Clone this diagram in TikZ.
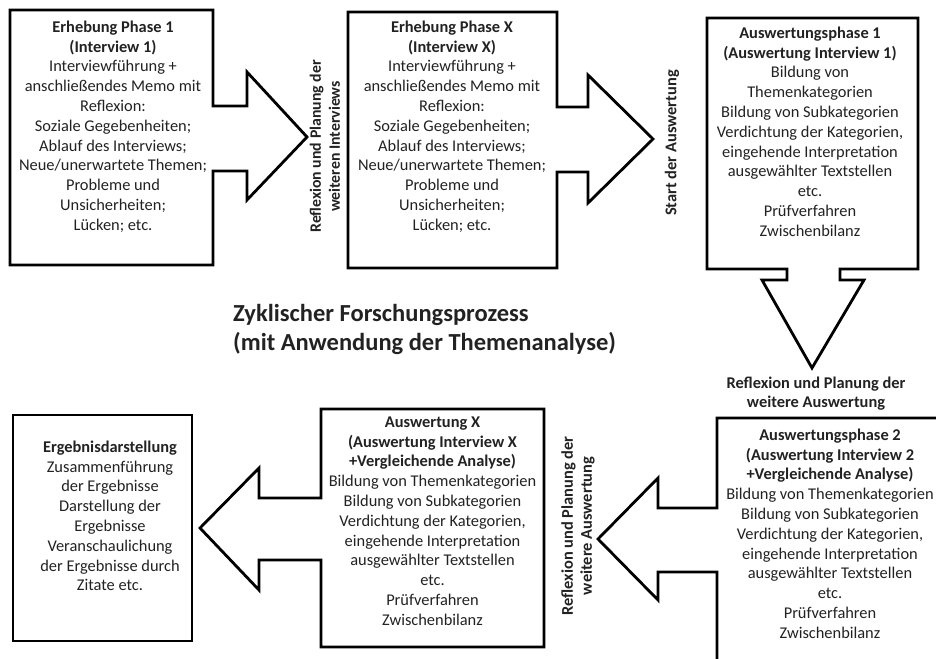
\documentclass[tikz,border=0pt]{standalone}
\usepackage{fontspec}
\setmainfont{Carlito}
\definecolor{txt}{HTML}{222222}
\begin{document}
\begin{tikzpicture}[x=1pt,y=-1pt,
  shapeline/.style={draw=black,line width=2.8pt,fill=white,line join=miter},
  bodytext/.style={align=center,inner sep=0pt,anchor=north,text=txt,font=\fontsize{16.4}{19.8}\selectfont},
  labeltext/.style={align=center,inner sep=0pt,text=txt,font=\fontsize{16.4}{19}\selectfont\bfseries},
  titletext/.style={align=left,inner sep=0pt,anchor=north west,text=txt,font=\fontsize{24.5}{29}\selectfont\bfseries}]
\useasboundingbox (0,0) rectangle (936,658);
\fill[white] (0,0) rectangle (936,658);
% Box 1 with arrow
\draw[shapeline] (10,10) -- (213,10) -- (213,106) -- (247,106) -- (247,72) -- (307,137) -- (247,200) -- (247,171) -- (213,171) -- (213,265) -- (10,265) -- cycle;
% Box 2 with arrow
\draw[shapeline] (348,12) -- (557,12) -- (557,107) -- (588,107) -- (588,75) -- (653,139) -- (588,203) -- (588,172) -- (557,172) -- (557,268) -- (348,268) -- cycle;
% Box 3 with down arrow
\draw[shapeline] (707,18) -- (918,18) -- (918,269) -- (840,269) -- (840,280) -- (864,280) -- (812,368) -- (762,280) -- (787,280) -- (787,269) -- (707,269) -- cycle;
% Box Auswertungsphase 2 with left arrow (cut by the page edge)
\fill[white] (717,418) rectangle (940,662);
\draw[shapeline] (942,418) -- (717,418) -- (717,508) -- (658,508) -- (658,478) -- (598,539) -- (658,600) -- (658,572) -- (717,572) -- (717,664);
% Box Auswertung X with left arrow
\draw[shapeline] (321,409) -- (544,409) -- (544,647) -- (321,647) -- (321,560) -- (259,560) -- (259,590) -- (200,528) -- (259,468) -- (259,498) -- (321,498) -- cycle;
% Box Ergebnisdarstellung
\draw[shapeline] (13,415) rectangle (192,641);

% Texts
\node[bodytext] (t1) at (113,20.5) {\textbf{Erhebung Phase 1}\\\textbf{(Interview 1)}\\Interviewführung +\\anschließendes Memo mit\\Reflexion:\\Soziale Gegebenheiten;\\Ablauf des Interviews;\\Neue/unerwartete Themen;\\Probleme und\\Unsicherheiten;\\Lücken; etc.};
\node[bodytext] (t2) at (452,20.5) {\textbf{Erhebung Phase X}\\\textbf{(Interview X)}\\Interviewführung +\\anschließendes Memo mit\\Reflexion:\\Soziale Gegebenheiten;\\Ablauf des Interviews;\\Neue/unerwartete Themen;\\Probleme und\\Unsicherheiten;\\Lücken; etc.};
\node[bodytext] (t3) at (810,26.5) {\textbf{Auswertungsphase 1}\\\textbf{(Auswertung Interview 1)}\\Bildung von\\Themenkategorien\\Bildung von Subkategorien\\Verdichtung der Kategorien,\\eingehende Interpretation\\ausgewählter Textstellen\\etc.\\Prüfverfahren\\Zwischenbilanz};
\node[bodytext] (t4) at (830,428.5) {\textbf{Auswertungsphase 2}\\\textbf{(Auswertung Interview 2}\\\textbf{+Vergleichende Analyse)}\\Bildung von Themenkategorien\\Bildung von Subkategorien\\Verdichtung der Kategorien,\\eingehende Interpretation\\ausgewählter Textstellen\\etc.\\Prüfverfahren\\Zwischenbilanz};
\node[bodytext] (t5) at (432.5,416.5) {\textbf{Auswertung X}\\\textbf{(Auswertung Interview X}\\\textbf{+Vergleichende Analyse)}\\Bildung von Themenkategorien\\Bildung von Subkategorien\\Verdichtung der Kategorien,\\eingehende Interpretation\\ausgewählter Textstellen\\etc.\\Prüfverfahren\\Zwischenbilanz};
\node[bodytext] (t6) at (110,440.5) {\textbf{Ergebnisdarstellung}\\Zusammenführung\\der Ergebnisse\\Darstellung der\\Ergebnisse\\Veranschaulichung\\der Ergebnisse durch\\Zitate etc.};

% Labels
\node[labeltext,rotate=90,font=\fontsize{15.8}{19}\selectfont\bfseries] (l1) at (325,146.5) {Reflexion und Planung der\\weiteren Interviews};
\node[labeltext,rotate=90] (l2) at (672,143) {Start der Auswertung};
\node[labeltext] (l3) at (816,394) {Reflexion und Planung der\\weitere Auswertung};
\node[labeltext,rotate=90] (l4) at (578,526) {Reflexion und Planung der\\weitere Auswertung};

% Title
\node[titletext] (title) at (233,304) {Zyklischer Forschungsprozess\\(mit Anwendung der Themenanalyse)};
\end{tikzpicture}
\end{document}
